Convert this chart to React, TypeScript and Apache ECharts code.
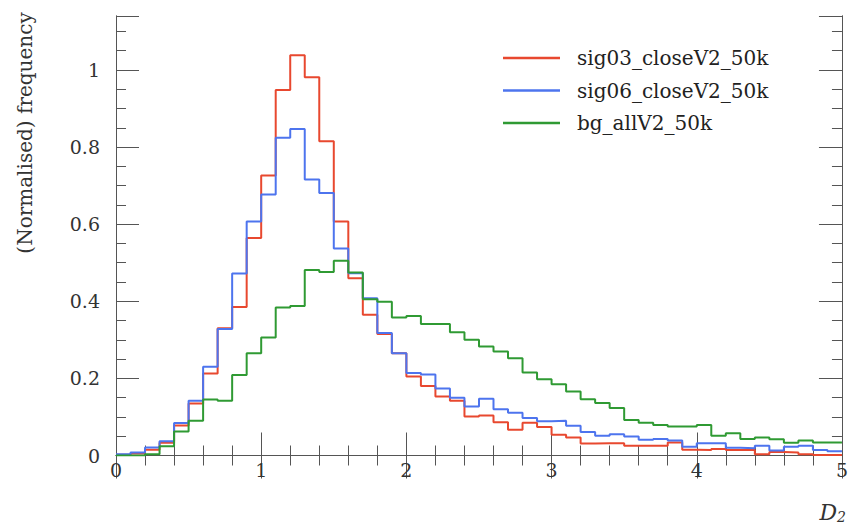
import React, { useEffect, useRef } from "react";
import * as echarts from "echarts";

// Histogram binning: 50 bins of width 0.1 on D2 in [0, 5]
const BIN_WIDTH = 0.1;
const X_MIN = 0;
const X_MAX = 5;
const Y_MAX = 1.14;

const SERIES_NAMES = ["sig03_closeV2_50k", "sig06_closeV2_50k", "bg_allV2_50k"];
const COLORS = ["#e8482f", "#4d74ee", "#2f9a33"];

// Normalised frequency per bin
const SIG03 = [
  0.002, 0.005, 0.015, 0.033, 0.078, 0.135, 0.213, 0.33, 0.385, 0.564,
  0.726, 0.948, 1.038, 0.981, 0.815, 0.607, 0.46, 0.365, 0.315, 0.265,
  0.205, 0.18, 0.153, 0.142, 0.101, 0.104, 0.086, 0.067, 0.085, 0.074,
  0.054, 0.047, 0.031, 0.032, 0.032, 0.025, 0.025, 0.025, 0.034, 0.015,
  0.014, 0.017, 0.014, 0.014, 0.003, 0.009, 0.008, 0.003, 0.001, 0.001,
];
const SIG06 = [
  0.003, 0.008, 0.021, 0.037, 0.084, 0.142, 0.23, 0.328, 0.472, 0.607,
  0.677, 0.824, 0.847, 0.716, 0.681, 0.537, 0.473, 0.408, 0.318, 0.265,
  0.214, 0.21, 0.174, 0.15, 0.127, 0.147, 0.12, 0.111, 0.097, 0.089,
  0.09, 0.077, 0.061, 0.051, 0.055, 0.049, 0.041, 0.043, 0.039, 0.023,
  0.032, 0.032, 0.02, 0.019, 0.025, 0.013, 0.023, 0.025, 0.014, 0.011,
];
const BG = [
  0.0, 0.0, 0.003, 0.024, 0.062, 0.09, 0.145, 0.142, 0.209, 0.265,
  0.306, 0.384, 0.388, 0.481, 0.476, 0.505, 0.475, 0.405, 0.399, 0.358,
  0.362, 0.341, 0.341, 0.32, 0.3, 0.283, 0.27, 0.252, 0.215, 0.198,
  0.185, 0.166, 0.146, 0.136, 0.123, 0.092, 0.085, 0.079, 0.075, 0.075,
  0.079, 0.051, 0.058, 0.043, 0.047, 0.042, 0.033, 0.039, 0.034, 0.034,
];

const FONT = "'DejaVu Serif', 'Liberation Serif', serif";
const FRAME = "#555";
const TEXT = "#333";

// Bin contents -> step-line points at the bin edges
function toSteps(values: number[]): [number, number][] {
  const pts: [number, number][] = values.map((v, i) => [
    Number((X_MIN + i * BIN_WIDTH).toFixed(2)),
    v,
  ]);
  pts.push([Number((X_MIN + values.length * BIN_WIDTH).toFixed(2)), values[values.length - 1]]);
  return pts;
}

const isMultiple = (v: number, step: number) =>
  Math.abs(v / step - Math.round(v / step)) < 1e-6;

function xAxis(position: "bottom" | "top", labels: boolean) {
  return {
    type: "value",
    position,
    min: X_MIN,
    max: X_MAX,
    interval: 1,
    axisLine: { show: true, lineStyle: { color: FRAME, width: 1 } },
    axisTick: { show: true, inside: true, length: 23, lineStyle: { color: FRAME } },
    minorTick: { show: true, splitNumber: 5, length: 10, lineStyle: { color: FRAME } },
    splitLine: { show: false },
    minorSplitLine: { show: false },
    axisLabel: {
      show: labels,
      margin: 5,
      fontFamily: FONT,
      fontSize: 19,
      color: TEXT,
      formatter: (v: number) => String(v),
    },
  };
}

function yAxis(position: "left" | "right", interval: number, tickLen: number, labels: boolean) {
  return {
    type: "value",
    position,
    min: 0,
    max: Y_MAX,
    interval,
    axisLine: { show: true, lineStyle: { color: FRAME, width: 1 } },
    axisTick: { show: true, inside: true, length: tickLen, lineStyle: { color: FRAME } },
    splitLine: { show: false },
    axisLabel: {
      show: labels,
      margin: 16,
      fontFamily: FONT,
      fontSize: 19,
      color: TEXT,
      formatter: (v: number) => (isMultiple(v, 0.2) ? String(Number(v.toFixed(1))) : ""),
    },
  };
}

export default function App() {
  const ref = useRef<HTMLDivElement>(null);

  useEffect(() => {
    if (!ref.current) return;
    const chart = echarts.init(ref.current, null, { renderer: "svg" });
    const data = [SIG03, SIG06, BG];

    chart.setOption({
      animation: false,
      backgroundColor: "#fff",
      color: COLORS,
      grid: { left: 116, right: 5, top: 16, bottom: 68.5, containLabel: false },
      xAxis: [xAxis("bottom", true), xAxis("top", false)],
      yAxis: [
        yAxis("left", 0.2, 23, true),
        yAxis("left", 0.05, 10, false),
        yAxis("right", 0.2, 23, false),
        yAxis("right", 0.05, 10, false),
      ],
      legend: {
        orient: "vertical",
        left: 503,
        top: 48,
        padding: 0,
        icon: "rect",
        itemWidth: 57,
        itemHeight: 2.5,
        itemGap: 12.5,
        data: SERIES_NAMES,
        textStyle: {
          fontFamily: FONT,
          fontSize: 20,
          lineHeight: 20,
          color: "#222",
          padding: [0, 0, 0, 12],
        },
      },
      graphic: [
        {
          type: "text",
          x: 25,
          y: 133,
          rotation: Math.PI / 2,
          style: {
            text: "(Normalised) frequency",
            fontFamily: FONT,
            fontSize: 20,
            fill: TEXT,
            align: "center",
            verticalAlign: "middle",
          },
        },
        {
          type: "text",
          x: 846,
          y: 512,
          style: {
            text: "{d|D}{s|2}",
            align: "right",
            verticalAlign: "middle",
            rich: {
              d: { fontFamily: FONT, fontStyle: "italic", fontSize: 22, fill: TEXT, color: TEXT },
              s: {
                fontFamily: FONT,
                fontStyle: "italic",
                fontSize: 14,
                color: TEXT,
                fill: TEXT,
                padding: [10, 0, 0, 0],
              },
            },
          },
        },
      ],
      series: SERIES_NAMES.map((name, i) => ({
        name,
        type: "line",
        step: "end",
        symbol: "none",
        xAxisIndex: 0,
        yAxisIndex: 0,
        data: toSteps(data[i]),
        lineStyle: { width: 2, color: COLORS[i] },
        itemStyle: { color: COLORS[i] },
        z: 2 + i,
      })),
    });

    return () => chart.dispose();
  }, []);

  return (
    <div
      ref={ref}
      style={{ position: "absolute", left: 0, top: 0, width: 851, height: 524, background: "#fff" }}
    />
  );
}
